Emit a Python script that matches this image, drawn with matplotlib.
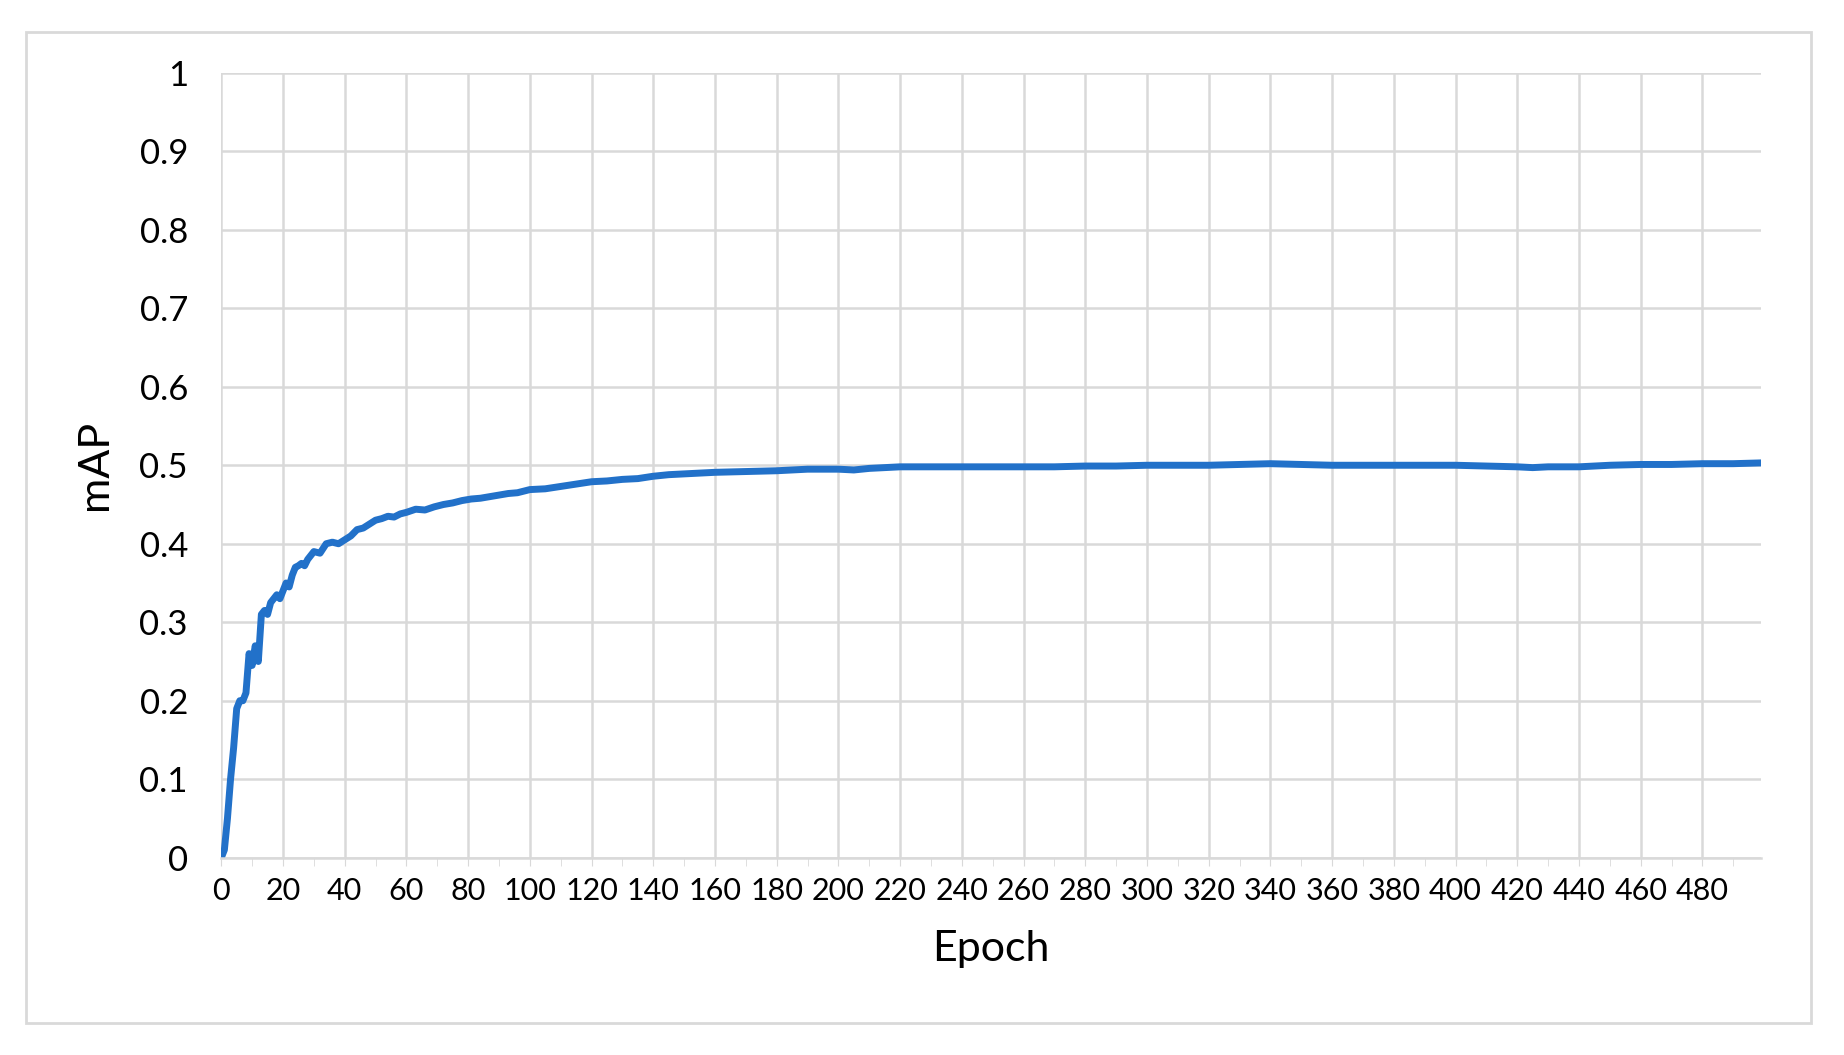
import matplotlib
matplotlib.use("Agg")
import matplotlib.pyplot as plt
from matplotlib.patches import Rectangle

plt.rcParams['font.family'] = ['Lato', 'DejaVu Sans']

epochs = [0,1,2,3,4,5,6,7,8,9,10,11,12,13,14,15,16,17,18,19,20,21,22,23,24,25,26,27,28,29,30,
          32,34,36,38,40,42,44,46,48,50,52,54,56,58,60,63,66,69,72,75,78,81,84,87,90,93,96,100,
          105,110,115,120,125,130,135,140,145,150,160,170,180,185,190,200,205,210,220,230,240,250,
          260,270,280,290,300,310,320,330,340,350,360,370,380,390,400,410,420,425,430,440,450,460,470,480,490,499]
mAP = [0.0,0.01,0.05,0.10,0.14,0.19,0.20,0.20,0.21,0.26,0.245,0.27,0.25,0.31,0.315,0.31,0.325,0.33,0.335,0.33,0.34,0.35,0.345,0.36,0.37,0.372,0.375,0.372,0.38,0.385,0.39,
       0.388,0.40,0.402,0.40,0.405,0.41,0.418,0.42,0.425,0.43,0.432,0.435,0.434,0.438,0.44,0.444,0.443,0.447,0.45,0.452,0.455,0.457,0.458,0.46,0.462,0.464,0.465,0.469,
       0.470,0.473,0.476,0.479,0.480,0.482,0.483,0.486,0.488,0.489,0.491,0.492,0.493,0.494,0.495,0.495,0.494,0.496,0.498,0.498,0.498,0.498,
       0.498,0.498,0.499,0.499,0.5,0.5,0.5,0.501,0.502,0.501,0.5,0.5,0.5,0.5,0.5,0.499,0.498,0.497,0.498,0.498,0.5,0.501,0.501,0.502,0.502,0.503]
xticks = list(range(0, 500, 20))

fig = plt.figure(figsize=(18.44, 10.55), dpi=100)
fig.patches.append(Rectangle((0.014, 0.03), 0.968, 0.94, transform=fig.transFigure,
                             fill=False, edgecolor="#d9d9d9", linewidth=2))
ax = fig.add_axes([0.12, 0.187, 0.835, 0.744])
ax.plot(epochs, mAP, color="#2271c9", linewidth=5)
ax.set_xlim(0, 499)
ax.set_ylim(0, 1)
ax.set_xticks(xticks)
ax.set_xticks(list(range(10, 500, 20)), minor=True)
ax.set_yticks([i/10 for i in range(11)])
ax.set_yticklabels(["0"] + [f"{i/10:.1f}" for i in range(1, 10)] + ["1"])
ax.grid(True, which="major", color="#d9d9d9", linewidth=1.8)
ax.set_axisbelow(True)
for s in ["top", "right", "left"]:
    ax.spines[s].set_visible(False)
ax.spines["bottom"].set_color("#d9d9d9")
ax.spines["bottom"].set_linewidth(1.8)
ax.tick_params(axis="y", length=0, labelsize=25, pad=24)
ax.tick_params(axis="x", which="both", length=6, color="#d9d9d9", labelsize=22, pad=8)
ax.set_xlabel("Epoch", fontsize=31, labelpad=18)
ax.set_ylabel("mAP", fontsize=31, labelpad=18)
fig.savefig("out.png", dpi=100)
